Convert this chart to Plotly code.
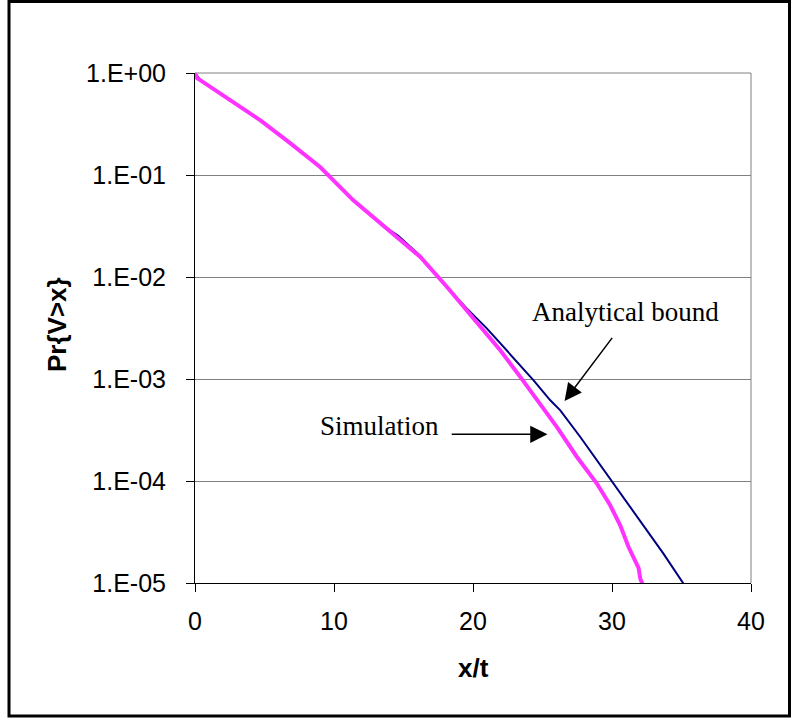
import plotly.graph_objects as go

# Simulation curve (magenta)
sim_x = [0, 0.15, 0.40, 2.55, 4.71, 6.87, 9.02, 11.39, 13.82, 16.21, 18.13, 19.32,
         20.52, 21.96, 23.40, 24.84, 26.04, 27.48, 28.91, 29.87, 30.59, 31.19,
         31.91, 32.03, 32.39]
sim_y = [1.0, 0.891, 0.847, 0.540, 0.343, 0.204, 0.119, 0.0565, 0.0300, 0.0157,
         0.00798, 0.00508, 0.00324, 0.00191, 0.00105, 5.74e-4, 3.38e-4, 1.72e-4,
         9.44e-5, 5.78e-5, 3.68e-5, 2.25e-5, 1.41e-5, 1.11e-5, 8.30e-6]

# Analytical bound curve (navy)
bound_x = [0, 0.40, 2.55, 4.71, 6.87, 9.02, 11.39, 13.82, 14.6, 16.2, 17.89, 19.57,
           21.01, 22.44, 24.36, 25.56, 26.28, 27.72, 30.11, 31.31, 32.03, 33.70,
           35.14, 35.38]
bound_y = [1.0, 0.847, 0.540, 0.343, 0.204, 0.119, 0.0565, 0.0300, 0.0255, 0.0162,
           0.00861, 0.00490, 0.00312, 0.00191, 9.70e-4, 6.18e-4, 4.93e-4, 2.70e-4,
           9.44e-5, 5.56e-5, 4.12e-5, 1.94e-5, 9.86e-6, 8.36e-6]

x_ticks = [0, 10, 20, 30, 40]
y_ticks = [1, 1e-1, 1e-2, 1e-3, 1e-4, 1e-5]
y_tick_labels = ["1.E+00", "1.E-01", "1.E-02", "1.E-03", "1.E-04", "1.E-05"]

SANS = "Liberation Sans, Arial, sans-serif"
SERIF = "Liberation Serif, Times New Roman, serif"

fig = go.Figure()
fig.add_trace(go.Scatter(x=bound_x, y=bound_y, mode="lines",
                         line=dict(color="#000080", width=2), name="Analytical bound"))
fig.add_trace(go.Scatter(x=sim_x, y=sim_y, mode="lines",
                         line=dict(color="#FF33FF", width=4), name="Simulation"))

fig.update_layout(
    width=792, height=719,
    margin=dict(l=195, r=41, t=73, b=136),
    paper_bgcolor="white", plot_bgcolor="white",
    showlegend=False,
    font=dict(family=SANS, size=25, color="black"),
    xaxis=dict(range=[0, 40], tickvals=x_ticks, showgrid=False, zeroline=False,
               showline=True, linecolor="black", linewidth=1,
               ticks="outside", ticklen=8, tickcolor="black", tickwidth=1,
               ticklabelstandoff=8, tickfont=dict(size=25)),
    yaxis=dict(type="log", range=[-5, 0], tickvals=y_ticks, ticktext=y_tick_labels,
               showgrid=True, gridcolor="#808080", gridwidth=1, zeroline=False,
               showline=True, linecolor="black", linewidth=1,
               ticks="outside", ticklen=8, tickcolor="black", tickwidth=1,
               ticklabelstandoff=15, tickfont=dict(size=25)),
)

# plot-area top and right border (gray)
fig.add_shape(type="line", xref="paper", yref="paper", x0=1, x1=1, y0=0, y1=1,
              line=dict(color="#808080", width=1), layer="below")
fig.add_shape(type="line", xref="paper", yref="paper", x0=0, x1=1, y0=1, y1=1,
              line=dict(color="#808080", width=1), layer="below")
# outer chart border
fig.add_shape(type="rect", xref="paper", yref="paper",
              x0=(9 - 195) / 556, x1=(789.5 - 195) / 556,
              y0=(583 - 716) / 510, y1=(583 - 1.5) / 510,
              line=dict(color="black", width=3))

# axis titles
fig.add_annotation(text="<b>x/t</b>", xref="paper", yref="paper", x=0.5,
                   y=(583 - 668) / 510, showarrow=False,
                   font=dict(family=SANS, size=26), xanchor="center", yanchor="middle")
fig.add_annotation(text="<b>Pr{V>x}</b>", xref="paper", yref="paper",
                   x=(57 - 195) / 556, y=(583 - 325) / 510, textangle=-90, showarrow=False,
                   font=dict(family=SANS, size=26), xanchor="center", yanchor="middle")

# text labels
fig.add_annotation(text="Analytical bound", x=31.0, y=-2.34, showarrow=False,
                   font=dict(family=SERIF, size=27), xanchor="center", yanchor="middle")
fig.add_annotation(text="Simulation", x=13.26, y=-3.464, showarrow=False,
                   font=dict(family=SERIF, size=27), xanchor="center", yanchor="middle")

# arrows
fig.add_annotation(text="", x=26.59, y=-3.216, ax=48.7, ay=-64.7, showarrow=True,
                   arrowhead=2, arrowsize=2.3, arrowwidth=1.5, arrowcolor="black", standoff=0)
fig.add_annotation(text="", x=25.36, y=-3.542, ax=-97.3, ay=0, showarrow=True,
                   arrowhead=2, arrowsize=2.3, arrowwidth=1.5, arrowcolor="black", standoff=0)

fig.write_html("out.html")
